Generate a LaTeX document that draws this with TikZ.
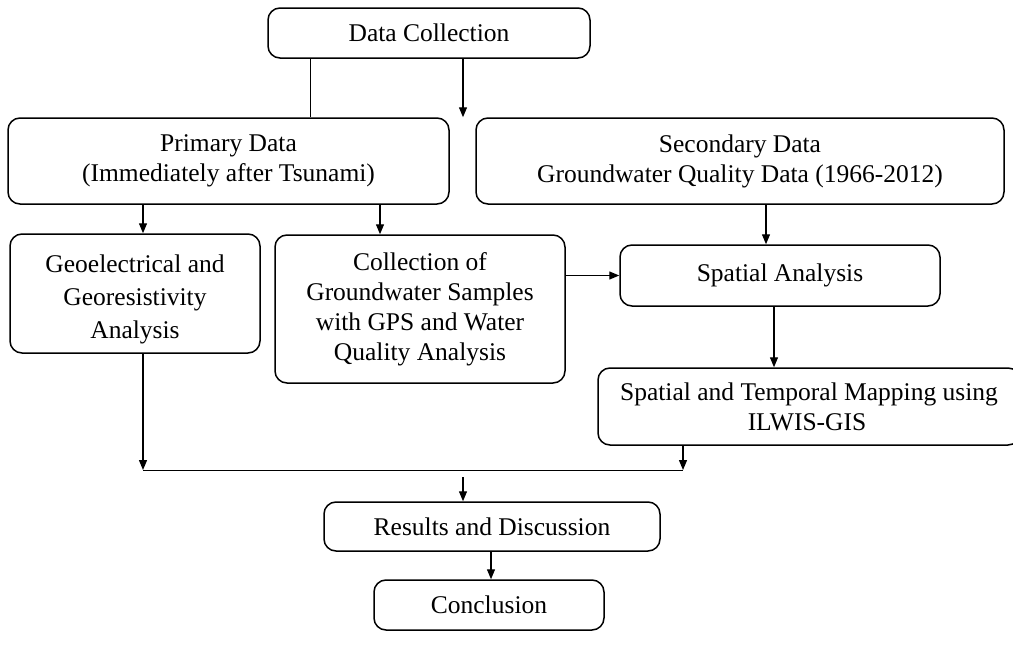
\documentclass[tikz,border=0pt]{standalone}
\usepackage{fontspec}
\setmainfont{Liberation Serif}
\usetikzlibrary{arrows.meta}
\begin{document}
\begin{tikzpicture}[x=1pt,y=-1pt,
  box/.style={draw=black,line width=1.5pt,rounded corners=12pt,inner sep=0pt,align=center,
    font=\fontsize{25.5}{30}\selectfont},
  conn/.style={draw=black,line width=1.3pt,-{Triangle[length=10pt,width=8pt]}},
  thin conn/.style={draw=black,line width=0.8pt}]
\useasboundingbox (0,0) rectangle (1013,645);
\begin{scope}
\clip (0,0) rectangle (1013,645);
\node[box,minimum width=322pt,minimum height=50pt] (dc) at (429,33) {Data Collection};
\node[box,minimum width=441pt,minimum height=86pt] (pd) at (228.5,161) {Primary Data\\(Immediately after Tsunami)};
\node[box,minimum width=528pt,minimum height=86pt] (sd) at (740,161) {Secondary Data\\Groundwater Quality Data (1966-2012)};
\node[box,minimum width=250pt,minimum height=119pt] (geo) at (135,293.5) {\rule{0pt}{0pt}\\[0pt]Geoelectrical and\\[3pt]Georesistivity\\[3pt]Analysis};
\node[box,minimum width=290pt,minimum height=148pt] (col) at (420,309) {Collection of\\Groundwater Samples\\with GPS and Water\\Quality Analysis};
\node[box,minimum width=320pt,minimum height=61pt] (sa) at (780,275.5) {Spatial Analysis};
\node[box,minimum width=422pt,minimum height=77pt] (stm) at (809,406.5) {Spatial and Temporal Mapping using\\ILWIS-GIS\hspace*{4pt}};
\node[box,minimum width=336pt,minimum height=49pt] (rd) at (492,526.5) {Results and Discussion};
\node[box,minimum width=230pt,minimum height=50pt] (con) at (489,605) {Conclusion};
\end{scope}
\coordinate (x1) at (310,0);
\coordinate (x2) at (463,0);
\coordinate (x3) at (143,0);
\coordinate (x4) at (380,0);
\coordinate (x5) at (766,0);
\coordinate (x6) at (774,0);
\coordinate (j1) at (143,470);
\coordinate (j2) at (683,470);
\coordinate (j3) at (463,477);
\coordinate (x7) at (491,0);
\draw[thin conn] (dc.south -| x1) -- (pd.north -| x1);
\draw[conn] (dc.south -| x2) -- (sd.north -| x2);
\draw[conn] (pd.south -| x3) -- (geo.north -| x3);
\draw[conn] (pd.south -| x4) -- (col.north -| x4);
\draw[conn] (col.east |- sa.west) -- (sa.west);
\draw[conn] (sd.south -| x5) -- (sa.north -| x5);
\draw[conn] (sa.south -| x6) -- (stm.north -| x6);
\draw[conn] (geo.south -| j1) -- (j1);
\draw[conn] (stm.south -| j2) -- (j2);
\draw[thin conn] (j1) -- (j2);
\draw[conn] (j3) -- (rd.north -| j3);
\draw[conn] (rd.south -| x7) -- (con.north -| x7);
\end{tikzpicture}
\end{document}
